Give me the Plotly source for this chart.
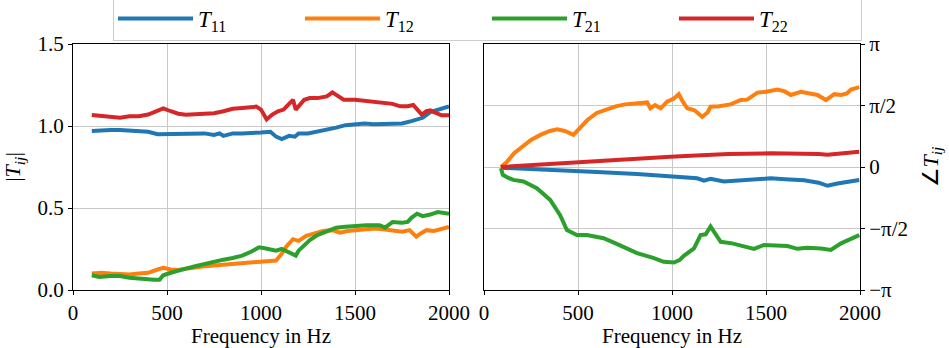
import numpy as np
import plotly.graph_objects as go

# ---------------- data ----------------
mag_T11_f = [100,150,200,250,300,350,400,450,500,600,700,750,780,800,850,900,950,1000,1050,1080,1110,1150,1180,1200,1250,1300,1350,1400,1450,1500,1550,1600,1650,1700,1750,1800,1830,1860,1900,1950,2000]
mag_T11 = [0.97,0.975,0.975,0.975,0.97,0.97,0.965,0.95,0.95,0.955,0.955,0.945,0.955,0.94,0.955,0.955,0.955,0.96,0.965,0.935,0.92,0.94,0.935,0.955,0.955,0.965,0.975,0.99,1.005,1.01,1.015,1.01,1.01,1.01,1.015,1.03,1.04,1.05,1.085,1.105,1.12]

mag_T12_f = [100,150,200,250,300,350,400,450,480,520,560,600,650,700,750,800,850,900,950,1000,1050,1080,1110,1135,1170,1200,1240,1280,1330,1380,1420,1460,1500,1550,1600,1650,1700,1750,1790,1826,1850,1880,1920,1960,2000]
mag_T12 = [0.10,0.105,0.10,0.095,0.095,0.10,0.105,0.125,0.135,0.125,0.122,0.13,0.14,0.145,0.15,0.155,0.16,0.165,0.17,0.175,0.175,0.18,0.22,0.265,0.31,0.30,0.33,0.345,0.36,0.365,0.35,0.36,0.365,0.37,0.375,0.37,0.36,0.355,0.365,0.325,0.345,0.365,0.36,0.37,0.385]

mag_T21_f = [100,140,200,250,300,350,400,430,460,480,520,560,600,650,700,750,800,850,900,950,990,1020,1050,1080,1110,1150,1185,1200,1230,1260,1300,1350,1400,1450,1500,1560,1630,1660,1700,1750,1780,1800,1830,1860,1900,1940,2000]
mag_T21 = [0.09,0.08,0.085,0.085,0.075,0.068,0.065,0.062,0.062,0.09,0.105,0.12,0.13,0.145,0.16,0.175,0.185,0.195,0.21,0.235,0.26,0.255,0.245,0.24,0.25,0.225,0.21,0.24,0.27,0.305,0.335,0.36,0.38,0.385,0.39,0.395,0.395,0.38,0.415,0.41,0.415,0.44,0.465,0.45,0.46,0.475,0.465]

mag_T22_f = [100,150,200,250,300,350,400,450,480,520,560,600,650,700,750,800,850,900,950,975,1000,1030,1060,1090,1120,1150,1170,1185,1200,1230,1260,1300,1350,1380,1400,1440,1500,1550,1600,1650,1700,1740,1780,1810,1830,1855,1880,1900,1930,1960,2000]
mag_T22 = [1.067,1.06,1.055,1.05,1.06,1.06,1.07,1.09,1.108,1.09,1.075,1.068,1.07,1.075,1.078,1.09,1.105,1.11,1.115,1.118,1.10,1.04,1.07,1.09,1.10,1.14,1.16,1.10,1.12,1.16,1.17,1.17,1.18,1.205,1.19,1.16,1.16,1.155,1.15,1.14,1.135,1.12,1.12,1.128,1.10,1.07,1.09,1.095,1.08,1.065,1.065]

ph_T11_f = [90,200,300,459,600,814,1000,1134,1170,1205,1276,1400,1525,1600,1703,1780,1827,1880,1950,1996]
ph_T11 = [-0.02,-0.04,-0.06,-0.09,-0.13,-0.18,-0.24,-0.29,-0.35,-0.30,-0.37,-0.33,-0.29,-0.31,-0.34,-0.40,-0.48,-0.42,-0.37,-0.33]

ph_T12_f = [90,120,160,200,250,300,350,390,430,476,510,550,600,650,700,750,800,850,868,885,910,940,974,1010,1036,1060,1081,1120,1161,1190,1205,1250,1312,1340,1365,1400,1454,1500,1561,1600,1632,1685,1730,1774,1819,1863,1899,1930,1952,1996]
ph_T12 = [0.0,0.12,0.35,0.50,0.69,0.82,0.92,0.96,0.92,0.82,0.98,1.2,1.38,1.46,1.55,1.60,1.63,1.64,1.65,1.50,1.58,1.50,1.67,1.75,1.86,1.65,1.50,1.45,1.28,1.40,1.54,1.55,1.60,1.66,1.71,1.72,1.90,1.92,1.98,1.93,1.84,1.92,1.88,1.84,1.71,1.86,1.84,1.88,1.98,2.04]

ph_T21_f = [90,100,130,156,210,281,352,405,441,494,547,580,636,700,814,900,956,1010,1040,1063,1117,1152,1179,1205,1230,1259,1320,1383,1436,1490,1560,1614,1667,1720,1792,1845,1899,1950,1996]
ph_T21 = [-0.03,-0.2,-0.28,-0.33,-0.37,-0.54,-0.84,-1.23,-1.61,-1.74,-1.74,-1.77,-1.82,-1.95,-2.2,-2.32,-2.42,-2.44,-2.38,-2.27,-2.08,-1.74,-1.72,-1.52,-1.70,-1.91,-1.95,-2.02,-2.09,-1.99,-2.0,-2.02,-2.09,-2.06,-2.08,-2.12,-1.95,-1.85,-1.74]

ph_T22_f = [90,200,300,459,600,800,992,1100,1170,1300,1525,1703,1780,1827,1900,1996]
ph_T22 = [0.0,0.03,0.05,0.09,0.14,0.20,0.26,0.29,0.31,0.33,0.35,0.35,0.33,0.31,0.35,0.39]

names = ["<i>T</i><sub>11</sub>", "<i>T</i><sub>12</sub>", "<i>T</i><sub>21</sub>", "<i>T</i><sub>22</sub>"]
colors = ["#1f77b4", "#ff7f0e", "#2ca02c", "#d62728"]

x_ticks = [0, 500, 1000, 1500, 2000]
mag_ticks = [0.0, 0.5, 1.0, 1.5]
ph_tickvals = [-np.pi, -np.pi/2, 0.0, np.pi/2, np.pi]
ph_ticktext = ["\u2212\u03c0", "\u2212\u03c0/2", "0", "\u03c0/2", "\u03c0"]

# ---------------- figure ----------------
W, H = 949, 348
FONT = "Liberation Serif"
fig = go.Figure()

mag = [(mag_T11_f, mag_T11), (mag_T12_f, mag_T12), (mag_T21_f, mag_T21), (mag_T22_f, mag_T22)]
ph = [(ph_T11_f, ph_T11), (ph_T12_f, ph_T12), (ph_T21_f, ph_T21), (ph_T22_f, ph_T22)]

for i in range(4):
    fig.add_trace(go.Scatter(x=mag[i][0], y=mag[i][1], mode="lines", name=names[i],
                             line=dict(color=colors[i], width=4), legendgroup=str(i),
                             xaxis="x", yaxis="y"))
for i in range(4):
    fig.add_trace(go.Scatter(x=ph[i][0], y=ph[i][1], mode="lines", name=names[i],
                             line=dict(color=colors[i], width=4), legendgroup=str(i),
                             showlegend=False, xaxis="x2", yaxis="y2"))

def px_x(p):
    return p / W

def px_y(p):
    return 1 - p / H

def axis(**kw):
    d = dict(showline=True, linecolor="black", linewidth=1, mirror=True,
             ticks="outside", ticklen=4, tickcolor="black", tickwidth=1,
             showgrid=True, gridcolor="#c8c8c8", gridwidth=1, zeroline=False,
             automargin=False,
             tickfont=dict(family=FONT, size=21, color="black"))
    d.update(kw)
    return d

fig.update_layout(
    width=W, height=H,
    margin=dict(l=0, r=0, t=0, b=0, autoexpand=False),
    paper_bgcolor="white", plot_bgcolor="white",
    font=dict(family=FONT, size=21, color="black"),
    showlegend=True,
    legend=dict(orientation="h", x=px_x(113), y=px_y(-4), xanchor="left", yanchor="top",
                bordercolor="#cccccc", borderwidth=1, bgcolor="white",
                entrywidth=97, entrywidthmode="pixels", itemwidth=75,
                font=dict(family=FONT, size=23, color="black")),
    xaxis=axis(domain=[px_x(73), px_x(449)], range=[0, 2000], tickvals=x_ticks, anchor="y",
               title=dict(text="Frequency in Hz", standoff=6,
                          font=dict(family=FONT, size=21, color="black"))),
    yaxis=axis(domain=[px_y(290), px_y(44)], range=[0, 1.5], tickvals=mag_ticks,
               tickformat=".1f", anchor="x",
               title=dict(text="|<i>T</i><sub><i>ij</i></sub>|", font=dict(family=FONT, size=22, color="black"))),
    xaxis2=axis(domain=[px_x(484), px_x(860)], range=[0, 2000], tickvals=x_ticks, anchor="y2",
                title=dict(text="Frequency in Hz", standoff=6,
                           font=dict(family=FONT, size=21, color="black"))),
    yaxis2=axis(domain=[px_y(290), px_y(44)], range=[-np.pi, np.pi], tickvals=ph_tickvals,
                ticktext=ph_ticktext, side="right", anchor="x2",
                title=dict(text="\u2220<i>T</i><sub><i>ij</i></sub>", font=dict(family=FONT, size=22, color="black"))),
)

fig.write_html("out.html")
